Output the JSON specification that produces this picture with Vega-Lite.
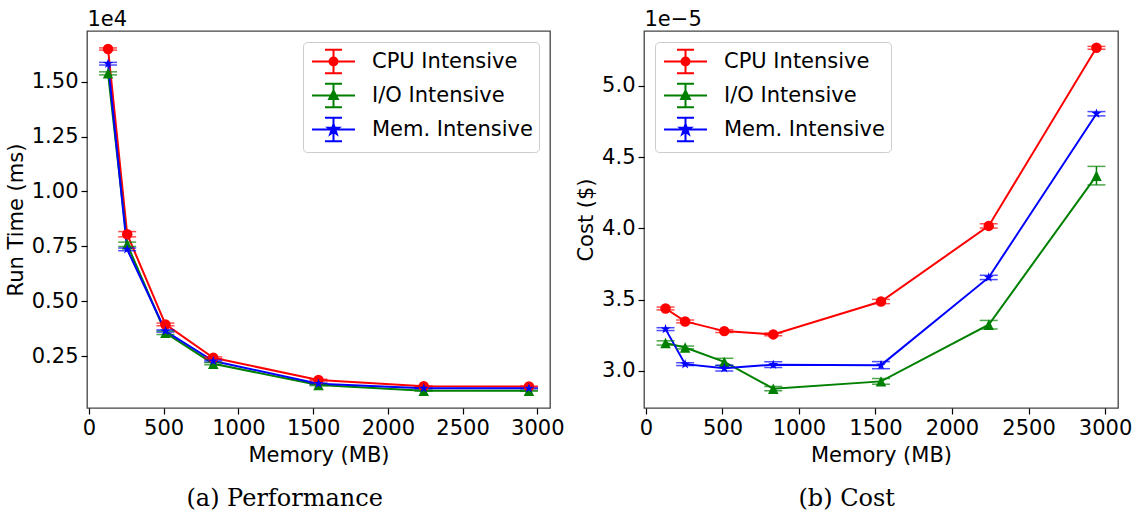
{
  "$schema": "https://vega.github.io/schema/vega-lite/v6.json",
  "padding": {"left": 4, "top": 7, "right": 5, "bottom": 5},
  "autosize": {"type": "pad"},
  "background": "white",
  "spacing": 9,
  "data": {"values": [
    {"Type": "CPU Intensive", "Memory": 128, "RunTime": 16490, "RunErr": 50, "Cost": 0.00003437, "CostErr": 0.0000001},
    {"Type": "CPU Intensive", "Memory": 256, "RunTime": 8050, "RunErr": 120, "Cost": 0.00003346, "CostErr": 0.0000001},
    {"Type": "CPU Intensive", "Memory": 512, "RunTime": 3940, "RunErr": 60, "Cost": 0.00003278, "CostErr": 0.0000001},
    {"Type": "CPU Intensive", "Memory": 832, "RunTime": 2420, "RunErr": 40, "Cost": 0.00003255, "CostErr": 0.0000001},
    {"Type": "CPU Intensive", "Memory": 1536, "RunTime": 1410, "RunErr": 30, "Cost": 0.00003486, "CostErr": 0.00000015},
    {"Type": "CPU Intensive", "Memory": 2240, "RunTime": 1120, "RunErr": 20, "Cost": 0.00004017, "CostErr": 0.00000015},
    {"Type": "CPU Intensive", "Memory": 2944, "RunTime": 1110, "RunErr": 20, "Cost": 0.00005268, "CostErr": 0.0000001},
    {"Type": "I/O Intensive", "Memory": 128, "RunTime": 15380, "RunErr": 70, "Cost": 0.00003195, "CostErr": 0.00000015},
    {"Type": "I/O Intensive", "Memory": 256, "RunTime": 7590, "RunErr": 100, "Cost": 0.00003163, "CostErr": 0.0000001},
    {"Type": "I/O Intensive", "Memory": 512, "RunTime": 3560, "RunErr": 80, "Cost": 0.00003062, "CostErr": 0.00000025},
    {"Type": "I/O Intensive", "Memory": 832, "RunTime": 2150, "RunErr": 50, "Cost": 0.00002874, "CostErr": 0.00000015},
    {"Type": "I/O Intensive", "Memory": 1536, "RunTime": 1180, "RunErr": 30, "Cost": 0.00002925, "CostErr": 0.0000002},
    {"Type": "I/O Intensive", "Memory": 2240, "RunTime": 920, "RunErr": 15, "Cost": 0.00003323, "CostErr": 0.0000003},
    {"Type": "I/O Intensive", "Memory": 2944, "RunTime": 915, "RunErr": 15, "Cost": 0.0000437, "CostErr": 0.00000065},
    {"Type": "Mem. Intensive", "Memory": 128, "RunTime": 15820, "RunErr": 60, "Cost": 0.00003292, "CostErr": 0.0000001},
    {"Type": "Mem. Intensive", "Memory": 256, "RunTime": 7360, "RunErr": 60, "Cost": 0.00003046, "CostErr": 0.0000001},
    {"Type": "Mem. Intensive", "Memory": 512, "RunTime": 3640, "RunErr": 50, "Cost": 0.00003018, "CostErr": 0.0000002},
    {"Type": "Mem. Intensive", "Memory": 832, "RunTime": 2270, "RunErr": 40, "Cost": 0.00003042, "CostErr": 0.0000002},
    {"Type": "Mem. Intensive", "Memory": 1536, "RunTime": 1240, "RunErr": 30, "Cost": 0.00003039, "CostErr": 0.00000025},
    {"Type": "Mem. Intensive", "Memory": 2240, "RunTime": 1030, "RunErr": 20, "Cost": 0.00003655, "CostErr": 0.00000015},
    {"Type": "Mem. Intensive", "Memory": 2944, "RunTime": 1030, "RunErr": 20, "Cost": 0.00004805, "CostErr": 0.00000015}
  ]},
  "hconcat": [
    {
      "width": 463,
      "height": 377,
      "title": {"text": "(a) Performance", "orient": "bottom", "frame": "bounds", "anchor": "middle", "offset": 22},
      "resolve": {"axis": {"x": "independent", "y": "independent"},
                  "legend": {"color": "independent", "fill": "independent", "stroke": "independent", "shape": "independent"},
                  "scale": {"shape": "independent", "fill": "independent", "stroke": "independent"}},
      "layer": [
        {
          "mark": {"type": "line", "strokeWidth": 2},
          "encoding": {
            "x": {"field": "Memory", "type": "quantitative", "scale": {"domain": [-12.8, 3084.8], "nice": false, "zero": false},
                  "axis": {"orient": "top", "title": "1e4", "labels": false, "ticks": false, "domain": false, "titleAnchor": "start", "titleAlign": "left", "titleBaseline": "bottom", "titlePadding": 2}},
            "y": {"field": "RunTime", "type": "quantitative", "scale": {"domain": [132, 17310], "nice": false, "zero": false},
                  "axis": {"title": "Run Time (ms)", "values": [2500, 5000, 7500, 10000, 12500, 15000], "labelExpr": "format(datum.value/10000, '.2f')", "titlePadding": 5}},
            "color": {"field": "Type", "type": "nominal", "scale": {"domain": ["CPU Intensive", "I/O Intensive", "Mem. Intensive"], "range": ["#ff0000", "#008000", "#0000ff"]}, "legend": null}
          }
        },
        {
          "mark": {"type": "errorbar", "ticks": true, "size": 18, "thickness": 1.5},
          "encoding": {
            "x": {"field": "Memory", "type": "quantitative", "axis": null},
            "y": {"field": "RunTime", "type": "quantitative", "axis": null},
            "yError": {"field": "RunErr"},
            "color": {"field": "Type", "type": "nominal", "legend": null}
          }
        },
        {
          "mark": {"type": "point", "filled": true, "size": 110, "opacity": 1},
          "encoding": {
            "x": {"field": "Memory", "type": "quantitative",
                  "axis": {"orient": "bottom", "title": "Memory (MB)", "values": [0, 500, 1000, 1500, 2000, 2500, 3000], "format": "d", "titlePadding": 6}},
            "y": {"field": "RunTime", "type": "quantitative", "axis": null},
            "shape": {"field": "Type", "type": "nominal", "legend": null, "scale": {"domain": ["CPU Intensive", "I/O Intensive", "Mem. Intensive"], "range": ["circle", "M0,-1L1,1L-1,1Z", "M0,-1L0.225,-0.309L0.951,-0.309L0.363,0.118L0.588,0.809L0,0.382L-0.588,0.809L-0.363,0.118L-0.951,-0.309L-0.225,-0.309Z"]}},
            "color": {"field": "Type", "type": "nominal", "legend": null}
          }
        },
        {
          "transform": [{"filter": "false"}],
          "mark": {"type": "point", "filled": false, "size": 625, "strokeWidth": 2, "opacity": 1},
          "encoding": {
            "fill": {"field": "Type", "type": "nominal", "scale": {"domain": ["CPU Intensive", "I/O Intensive", "Mem. Intensive"], "range": ["#ff0000", "#008000", "#0000ff"]},
              "legend": {"title": null, "orient": "top-right", "offset": 11, "padding": 6, "rowPadding": 1, "labelOffset": 36, "labelLimit": 400,
                "strokeColor": "#cccccc", "fillColor": "rgba(255,255,255,0.8)", "cornerRadius": 4,
                "labelFont": "DejaVu Sans", "labelFontSize": 21, "labelColor": "#000000", "symbolSize": 625, "symbolStrokeWidth": 2}},
            "stroke": {"field": "Type", "type": "nominal", "scale": {"domain": ["CPU Intensive", "I/O Intensive", "Mem. Intensive"], "range": ["#ff0000", "#008000", "#0000ff"]},
              "legend": {"title": null, "orient": "top-right", "offset": 11, "padding": 6, "rowPadding": 1, "labelOffset": 36, "labelLimit": 400,
                "strokeColor": "#cccccc", "fillColor": "rgba(255,255,255,0.8)", "cornerRadius": 4,
                "labelFont": "DejaVu Sans", "labelFontSize": 21, "labelColor": "#000000", "symbolSize": 625, "symbolStrokeWidth": 2}},
            "shape": {"field": "Type", "type": "nominal", "scale": {"domain": ["CPU Intensive", "I/O Intensive", "Mem. Intensive"], "range": [
                "M-0.84,0H2.6M0.88,-0.936V0.936M0.2,-0.936H1.56M0.2,0.936H1.56M1.2,0A0.32,0.32,0,1,1,0.56,0A0.32,0.32,0,1,1,1.2,0Z",
                "M-0.84,0H2.6M0.88,-0.936V0.936M0.2,-0.936H1.56M0.2,0.936H1.56M0.88,-0.38L1.23,0.28L0.53,0.28Z",
                "M-0.84,0H2.6M0.88,-0.936V0.936M0.2,-0.936H1.56M0.2,0.936H1.56M0.88,-0.45L0.981,-0.139L1.308,-0.139L1.043,0.053L1.145,0.364L0.88,0.172L0.615,0.364L0.717,0.053L0.452,-0.139L0.779,-0.139Z"]},
              "legend": {"title": null, "orient": "top-right", "offset": 11, "padding": 6, "rowPadding": 1, "labelOffset": 36, "labelLimit": 400,
                "strokeColor": "#cccccc", "fillColor": "rgba(255,255,255,0.8)", "cornerRadius": 4,
                "labelFont": "DejaVu Sans", "labelFontSize": 21, "labelColor": "#000000", "symbolSize": 625, "symbolStrokeWidth": 2}}
          }
        }
      ]
    },
    {
      "width": 474,
      "height": 377,
      "title": {"text": "(b) Cost", "orient": "bottom", "frame": "bounds", "anchor": "middle", "offset": 22, "dx": -7},
      "resolve": {"axis": {"x": "independent", "y": "independent"},
                  "legend": {"color": "independent", "fill": "independent", "stroke": "independent", "shape": "independent"},
                  "scale": {"shape": "independent", "fill": "independent", "stroke": "independent"}},
      "layer": [
        {
          "mark": {"type": "line", "strokeWidth": 2},
          "encoding": {
            "x": {"field": "Memory", "type": "quantitative", "scale": {"domain": [-12.8, 3084.8], "nice": false, "zero": false},
                  "axis": {"orient": "top", "title": "1e\u22125", "labels": false, "ticks": false, "domain": false, "titleAnchor": "start", "titleAlign": "left", "titleBaseline": "bottom", "titlePadding": 2}},
            "y": {"field": "Cost", "type": "quantitative", "scale": {"domain": [0.00002738, 0.00005386], "nice": false, "zero": false},
                  "axis": {"title": "Cost ($)", "values": [0.00003, 0.000035, 0.00004, 0.000045, 0.00005], "labelExpr": "format(datum.value*100000, '.1f')", "titlePadding": 5}},
            "color": {"field": "Type", "type": "nominal", "scale": {"domain": ["CPU Intensive", "I/O Intensive", "Mem. Intensive"], "range": ["#ff0000", "#008000", "#0000ff"]}, "legend": null}
          }
        },
        {
          "mark": {"type": "errorbar", "ticks": true, "size": 18, "thickness": 1.5},
          "encoding": {
            "x": {"field": "Memory", "type": "quantitative", "axis": null},
            "y": {"field": "Cost", "type": "quantitative", "axis": null},
            "yError": {"field": "CostErr"},
            "color": {"field": "Type", "type": "nominal", "legend": null}
          }
        },
        {
          "mark": {"type": "point", "filled": true, "size": 110, "opacity": 1},
          "encoding": {
            "x": {"field": "Memory", "type": "quantitative",
                  "axis": {"orient": "bottom", "title": "Memory (MB)", "values": [0, 500, 1000, 1500, 2000, 2500, 3000], "format": "d", "titlePadding": 6}},
            "y": {"field": "Cost", "type": "quantitative", "axis": null},
            "shape": {"field": "Type", "type": "nominal", "legend": null, "scale": {"domain": ["CPU Intensive", "I/O Intensive", "Mem. Intensive"], "range": ["circle", "M0,-1L1,1L-1,1Z", "M0,-1L0.225,-0.309L0.951,-0.309L0.363,0.118L0.588,0.809L0,0.382L-0.588,0.809L-0.363,0.118L-0.951,-0.309L-0.225,-0.309Z"]}},
            "color": {"field": "Type", "type": "nominal", "legend": null}
          }
        },
        {
          "transform": [{"filter": "false"}],
          "mark": {"type": "point", "filled": false, "size": 625, "strokeWidth": 2, "opacity": 1},
          "encoding": {
            "fill": {"field": "Type", "type": "nominal", "scale": {"domain": ["CPU Intensive", "I/O Intensive", "Mem. Intensive"], "range": ["#ff0000", "#008000", "#0000ff"]},
              "legend": {"title": null, "orient": "top-left", "offset": 11, "padding": 6, "rowPadding": 1, "labelOffset": 36, "labelLimit": 400,
                "strokeColor": "#cccccc", "fillColor": "rgba(255,255,255,0.8)", "cornerRadius": 4,
                "labelFont": "DejaVu Sans", "labelFontSize": 21, "labelColor": "#000000", "symbolSize": 625, "symbolStrokeWidth": 2}},
            "stroke": {"field": "Type", "type": "nominal", "scale": {"domain": ["CPU Intensive", "I/O Intensive", "Mem. Intensive"], "range": ["#ff0000", "#008000", "#0000ff"]},
              "legend": {"title": null, "orient": "top-left", "offset": 11, "padding": 6, "rowPadding": 1, "labelOffset": 36, "labelLimit": 400,
                "strokeColor": "#cccccc", "fillColor": "rgba(255,255,255,0.8)", "cornerRadius": 4,
                "labelFont": "DejaVu Sans", "labelFontSize": 21, "labelColor": "#000000", "symbolSize": 625, "symbolStrokeWidth": 2}},
            "shape": {"field": "Type", "type": "nominal", "scale": {"domain": ["CPU Intensive", "I/O Intensive", "Mem. Intensive"], "range": [
                "M-0.84,0H2.6M0.88,-0.936V0.936M0.2,-0.936H1.56M0.2,0.936H1.56M1.2,0A0.32,0.32,0,1,1,0.56,0A0.32,0.32,0,1,1,1.2,0Z",
                "M-0.84,0H2.6M0.88,-0.936V0.936M0.2,-0.936H1.56M0.2,0.936H1.56M0.88,-0.38L1.23,0.28L0.53,0.28Z",
                "M-0.84,0H2.6M0.88,-0.936V0.936M0.2,-0.936H1.56M0.2,0.936H1.56M0.88,-0.45L0.981,-0.139L1.308,-0.139L1.043,0.053L1.145,0.364L0.88,0.172L0.615,0.364L0.717,0.053L0.452,-0.139L0.779,-0.139Z"]},
              "legend": {"title": null, "orient": "top-left", "offset": 11, "padding": 6, "rowPadding": 1, "labelOffset": 36, "labelLimit": 400,
                "strokeColor": "#cccccc", "fillColor": "rgba(255,255,255,0.8)", "cornerRadius": 4,
                "labelFont": "DejaVu Sans", "labelFontSize": 21, "labelColor": "#000000", "symbolSize": 625, "symbolStrokeWidth": 2}}
          }
        }
      ]
    }
  ],
  "config": {
    "font": "DejaVu Sans",
    "view": {"stroke": "#444444", "strokeWidth": 1.3},
    "axis": {"grid": false, "domain": false, "labelFont": "DejaVu Sans", "titleFont": "DejaVu Sans", "labelFontSize": 21, "titleFontSize": 21, "titleFontWeight": "normal", "labelColor": "#000000", "titleColor": "#000000", "tickColor": "#000000", "tickSize": 6, "tickWidth": 1.2, "labelPadding": 3},
    "title": {"font": "DejaVu Serif", "fontSize": 24, "fontWeight": "normal", "color": "#000000"}
  }
}
